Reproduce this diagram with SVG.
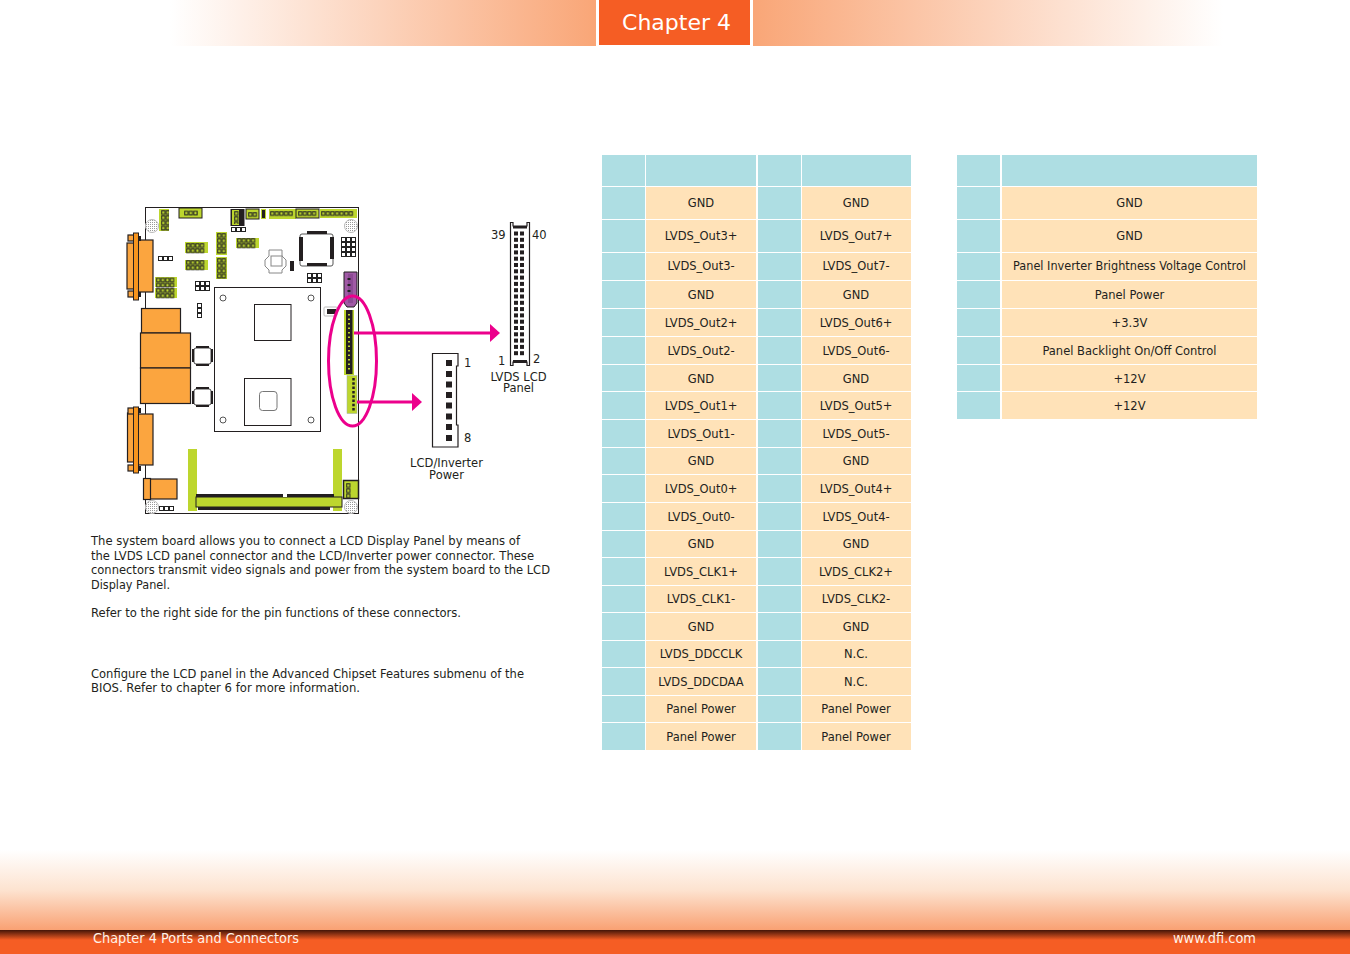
<svg xmlns="http://www.w3.org/2000/svg" width="1350" height="954" viewBox="0 0 1350 954">
<defs>
<linearGradient id="hl"><stop offset="0" stop-color="#fff"/><stop offset="1" stop-color="#F9A677"/></linearGradient>
<linearGradient id="hr"><stop offset="0" stop-color="#F9A677"/><stop offset="1" stop-color="#fff"/></linearGradient>
<linearGradient id="fg" x1="0" y1="0" x2="0" y2="1"><stop offset="0" stop-color="#fff"/><stop offset="0.5" stop-color="#FDE3D0"/><stop offset="1" stop-color="#F9A173"/></linearGradient>
<linearGradient id="fd" x1="0" y1="0" x2="0" y2="1"><stop offset="0" stop-color="#431508"/><stop offset="1" stop-color="#F55D24"/></linearGradient>
<pattern id="pins" width="4.6" height="5.200" patternUnits="userSpaceOnUse"><rect x="0.700" y="0.700" width="3.100" height="3.600" fill="#BDD62E" stroke="#222" stroke-width="1"/></pattern>
<pattern id="wh" width="5" height="5" patternUnits="userSpaceOnUse"><rect width="5" height="5" fill="#222"/><rect x="1" y="1" width="3" height="3" fill="#fff"/></pattern>
<pattern id="hatch" width="2" height="2" patternUnits="userSpaceOnUse"><rect width="2" height="2" fill="#fff"/><rect width="1" height="1" fill="#999"/></pattern>
<marker id="arrow" viewBox="0 0 10 18" refX="0" refY="9" markerUnits="userSpaceOnUse" markerWidth="10" markerHeight="18" orient="auto"><path d="M0 0L10 9L0 18Z" fill="#EC008C"/></marker>
</defs>
<style>
text{font-family:"DejaVu Sans",Verdana,sans-serif;fill:#231F20;font-size:11.5px}
.c{text-anchor:middle}
.b{fill:#AEDEE3}.o{fill:#FFE2B8}
.y{fill:#BDD62E}
.j{fill:url(#pins)}
.or{fill:#FBA53F;stroke:#231F20;stroke-width:1.2}
.k{fill:#231F20}
.w{fill:url(#wh)}
.h{fill:url(#hatch);stroke:#bbb;stroke-width:1}
.pin{fill:#231F20}
</style>
<rect width="1350" height="954" fill="#fff"/>
<g id="header">
<rect x="170" y="0" width="426" height="46" fill="url(#hl)"/>
<rect x="753" y="0" width="470" height="46" fill="url(#hr)"/>
<rect x="599" y="0" width="151" height="45" fill="#F55D24"/>
<text x="676.500" y="30" class="c" style="font-size:22px;fill:#fff">Chapter 4</text>
</g>
<g id="footer">
<rect x="0" y="850" width="1350" height="80" fill="url(#fg)"/>
<rect x="0" y="930" width="1350" height="10" fill="url(#fd)"/>
<rect x="0" y="940" width="1350" height="14" fill="#F55D24"/>
<text x="93" y="943" textLength="206" lengthAdjust="spacingAndGlyphs" style="font-size:14px;fill:#FFF1E6">Chapter 4 Ports and Connectors</text>
<text x="1173" y="943" textLength="83" lengthAdjust="spacingAndGlyphs" style="font-size:14px;fill:#FFF1E6">www.dfi.com</text>
</g>
<g id="board">
<rect x="145.500" y="207.500" width="213" height="306" fill="#fff" stroke="#231F20" stroke-width="1"/>
<g>
<rect x="159" y="209" width="10" height="22" class="y"/><rect transform="translate(161 210)" width="8" height="20.800" class="j"/>
<rect x="179" y="208" width="23" height="10" class="y" stroke="#231F20"/><rect transform="translate(184 210.500)" width="14" height="5.200" class="j"/>
<rect x="230.500" y="209" width="14" height="17" class="k"/><rect x="232" y="210" width="7" height="15" class="y"/><rect transform="translate(234 211)" width="4.600" height="13" class="j"/>
<rect x="246" y="209" width="13" height="10" class="y" stroke="#231F20"/><rect transform="translate(248 212)" width="9.200" height="5.200" class="j"/>
<rect x="261" y="209" width="5" height="10" class="y"/><rect x="262" y="210" width="3" height="8" class="k"/>
<rect x="269" y="209" width="27" height="10" class="y"/><rect transform="translate(270 211)" width="23" height="5.200" class="j"/>
<rect x="296" y="209" width="23" height="9" class="y" stroke="#231F20"/><rect transform="translate(298 211)" width="18.400" height="5.200" class="j"/>
<rect x="320" y="209" width="37" height="9" class="y"/><rect transform="translate(321 211)" width="32.200" height="5.200" class="j"/>
<circle cx="152" cy="226" r="6.500" class="h"/><circle cx="351" cy="226" r="6.500" class="h"/>
<circle cx="152" cy="507" r="6.500" class="h"/><circle cx="351" cy="507" r="6.500" class="h"/>
<rect transform="translate(231 227)" width="15" height="5" class="w"/>
<rect x="216" y="232" width="11" height="23" class="y"/><rect transform="translate(217 233)" width="9.200" height="20.800" class="j"/>
<rect x="216" y="257" width="11" height="22" class="y"/><rect transform="translate(217 258)" width="9.200" height="20.800" class="j"/>
<rect x="185" y="242" width="23" height="11" class="y"/><rect transform="translate(186 243)" width="18.400" height="10.400" class="j"/>
<rect x="185" y="260" width="23" height="10" class="y"/><rect transform="translate(186 260)" width="18.400" height="10.400" class="j"/>
<rect x="236" y="238" width="23" height="10" class="y"/><rect transform="translate(237 238)" width="18.400" height="10.400" class="j"/>
<rect x="300" y="234" width="33" height="32" rx="2" fill="#fff" stroke="#555"/>
<rect x="299" y="237" width="4" height="24" class="k"/><rect x="330" y="237" width="4" height="22" class="k"/>
<rect x="307" y="231" width="20" height="3" class="k"/><rect x="307" y="263" width="20" height="3" class="k"/>
<rect transform="translate(341 237)" width="15" height="20" class="w"/>
<rect transform="translate(307 273)" width="15" height="10" class="w"/>
<rect x="290" y="261" width="4" height="10" class="k"/>
<path d="M269 250H282V256L286 260V266L282 270V273H269V270L265 266V260L269 256Z" fill="#fff" stroke="#888"/><rect x="271" y="256" width="11" height="10" fill="#fff" stroke="#888"/>
<rect transform="translate(158 256)" width="15" height="5" class="w"/>
<rect x="155" y="277" width="22" height="10" class="y"/><rect transform="translate(156 277.500)" width="18.400" height="10.400" class="j"/>
<rect x="155" y="288" width="22" height="10" class="y"/><rect transform="translate(156 288)" width="18.400" height="10.400" class="j"/>
<rect transform="translate(195 281)" width="15" height="10" class="w"/>
<rect transform="translate(197 303)" width="5" height="15" class="w"/>
</g>
<g>
<rect x="127" y="243" width="7" height="46" class="or"/>
<rect x="134" y="240" width="19" height="52" class="or"/>
<rect x="128" y="235" width="6" height="6" class="or"/><rect x="128" y="291" width="6" height="6" class="or"/>
<rect x="133.500" y="233" width="5" height="67" fill="#F7941D" stroke="#231F20"/>
<rect x="138" y="236" width="3" height="5" class="k"/><rect x="138" y="292" width="3" height="5" class="k"/>
<rect x="127.500" y="413" width="7" height="49" class="or"/>
<rect x="134" y="414" width="19" height="51" class="or"/>
<rect x="128" y="408" width="6" height="6" class="or"/><rect x="128" y="465" width="6" height="6" class="or"/>
<rect x="133.500" y="407" width="5" height="66" fill="#F7941D" stroke="#231F20"/>
<rect x="138" y="408" width="3" height="5" class="k"/><rect x="138" y="466" width="3" height="5" class="k"/>
<rect x="141.500" y="308.500" width="39" height="24.500" class="or"/>
<rect x="140.500" y="333" width="50" height="35" class="or"/>
<rect x="140.500" y="368" width="50" height="35.500" class="or"/>
<rect x="150" y="479" width="27" height="20" class="or"/><rect x="143.500" y="478.500" width="7" height="21" class="or"/>
<rect transform="translate(159 506)" width="15" height="5" class="w"/>
</g>
<g>
<rect x="194" y="348" width="17" height="16" rx="2" fill="#fff" stroke="#444"/><rect x="192" y="349" width="2" height="13" class="k"/><rect x="211" y="349" width="2" height="13" class="k"/><rect x="196" y="346" width="13" height="2" class="k"/><rect x="196" y="364" width="13" height="2" class="k"/>
<rect x="194" y="389" width="17" height="16" rx="2" fill="#fff" stroke="#444"/><rect x="192" y="391" width="2" height="13" class="k"/><rect x="211" y="391" width="2" height="13" class="k"/><rect x="196" y="387" width="13" height="2" class="k"/><rect x="196" y="405" width="13" height="2" class="k"/>
</g>
<g>
<rect x="214.500" y="287.500" width="106" height="144" fill="#fff" stroke="#231F20"/>
<rect x="254.500" y="304.500" width="36.500" height="36" fill="#fff" stroke="#231F20"/>
<rect x="244.500" y="378.500" width="46.500" height="47" fill="#fff" stroke="#231F20"/>
<rect x="259.500" y="391.500" width="17.500" height="19" rx="3" fill="#fff" stroke="#777"/>
<circle cx="223" cy="298" r="3" fill="#fff" stroke="#555"/><circle cx="311" cy="298" r="3" fill="#fff" stroke="#555"/><circle cx="223" cy="420" r="3" fill="#fff" stroke="#555"/><circle cx="311" cy="420" r="3" fill="#fff" stroke="#555"/>
</g>
<g>
<rect x="324" y="307" width="13" height="9" rx="1" fill="#fff" stroke="#bbb"/><rect x="327" y="309" width="9" height="5" class="k"/>
<path d="M344 272H357V303L354 307H347L344 303Z" fill="#A05AA5" stroke="#231F20"/><rect x="348" y="274" width="5" height="29" fill="#8C4A94"/><path d="M349 278V302" stroke="#222" stroke-dasharray="2 4" stroke-width="3"/>
<rect x="344" y="310" width="10" height="65" class="y"/><rect x="346" y="310" width="6.500" height="64" class="k"/><path d="M349 314V372" stroke="#BDD62E" stroke-width="2" stroke-dasharray="1.500 3"/>
<rect x="347" y="375.500" width="10" height="38" class="y" stroke="#9aa" stroke-width="0.500"/><path d="M353.500 378V411" stroke="#231F20" stroke-width="2.500" stroke-dasharray="2.500 1.800"/>
<rect x="188" y="449" width="9" height="62" class="y"/>
<rect x="333" y="449" width="9" height="62" class="y"/>
<rect x="196" y="494" width="138" height="4" class="k"/>
<rect x="196" y="497" width="146" height="10" class="y" stroke="#231F20" stroke-width="1"/>
<rect x="198" y="507" width="132" height="3" class="k"/>
<rect x="283" y="494" width="4" height="3" fill="#fff"/>
<rect x="343.500" y="480.500" width="15" height="18" class="y" stroke="#231F20" stroke-width="1.500"/><rect transform="translate(346 483)" width="4.600" height="15.600" class="j"/>
</g>
</g>
<g id="connectors">
<ellipse cx="352.500" cy="361" rx="24" ry="65" fill="none" stroke="#EC008C" stroke-width="3"/>
<path d="M354 333H490" stroke="#EC008C" stroke-width="3" fill="none" marker-end="url(#arrow)"/>
<path d="M357 402H412" stroke="#EC008C" stroke-width="3" fill="none" marker-end="url(#arrow)"/>
</g>
<g id="lvds-connector">
<path d="M510.500 222.500V365.500H513V362H527V365.500H529.500V222.500H527V226H513V222.500Z" fill="#fff" stroke="#231F20" stroke-width="1.200"/>
<rect x="513" y="226" width="14" height="2.500" class="k"/><rect x="513" y="360" width="14" height="3" class="k"/>
<g class="pin">
<rect x="514" y="231.500" width="4" height="4"/><rect x="520" y="231.500" width="4" height="4"/><rect x="514" y="237.800" width="4" height="4"/><rect x="520" y="237.800" width="4" height="4"/><rect x="514" y="244.100" width="4" height="4"/><rect x="520" y="244.100" width="4" height="4"/><rect x="514" y="250.400" width="4" height="4"/><rect x="520" y="250.400" width="4" height="4"/><rect x="514" y="256.700" width="4" height="4"/><rect x="520" y="256.700" width="4" height="4"/><rect x="514" y="263" width="4" height="4"/><rect x="520" y="263" width="4" height="4"/><rect x="514" y="269.300" width="4" height="4"/><rect x="520" y="269.300" width="4" height="4"/><rect x="514" y="275.600" width="4" height="4"/><rect x="520" y="275.600" width="4" height="4"/><rect x="514" y="281.900" width="4" height="4"/><rect x="520" y="281.900" width="4" height="4"/><rect x="514" y="288.200" width="4" height="4"/><rect x="520" y="288.200" width="4" height="4"/><rect x="514" y="294.500" width="4" height="4"/><rect x="520" y="294.500" width="4" height="4"/><rect x="514" y="300.800" width="4" height="4"/><rect x="520" y="300.800" width="4" height="4"/><rect x="514" y="307.100" width="4" height="4"/><rect x="520" y="307.100" width="4" height="4"/><rect x="514" y="313.400" width="4" height="4"/><rect x="520" y="313.400" width="4" height="4"/><rect x="514" y="319.700" width="4" height="4"/><rect x="520" y="319.700" width="4" height="4"/><rect x="514" y="326" width="4" height="4"/><rect x="520" y="326" width="4" height="4"/><rect x="514" y="332.300" width="4" height="4"/><rect x="520" y="332.300" width="4" height="4"/><rect x="514" y="338.600" width="4" height="4"/><rect x="520" y="338.600" width="4" height="4"/><rect x="514" y="344.900" width="4" height="4"/><rect x="520" y="344.900" width="4" height="4"/><rect x="514" y="351.200" width="4" height="4"/><rect x="520" y="351.200" width="4" height="4"/>
</g>
<text x="491" y="239">39</text><text x="532" y="239">40</text><text x="498" y="365">1</text><text x="533" y="363">2</text>
<text x="518.500" y="381" class="c">LVDS LCD</text><text x="518.500" y="392" class="c">Panel</text>
</g>
<g id="power-connector">
<path d="M432.500 353.500H458V366H456.500V425H458V447H432.500Z" fill="#fff" stroke="#231F20" stroke-width="1.200"/>
<g class="pin"><rect x="446" y="360" width="6" height="6"/><rect x="446" y="371" width="6" height="6"/><rect x="446" y="381.500" width="6" height="6"/><rect x="446" y="392" width="6" height="6"/><rect x="446" y="402.500" width="6" height="6"/><rect x="446" y="413.500" width="6" height="6"/><rect x="446" y="424" width="6" height="6"/><rect x="446" y="435" width="6" height="6"/></g>
<text x="464" y="367">1</text><text x="464" y="442">8</text>
<text x="446.500" y="467" class="c">LCD/Inverter</text><text x="446.500" y="479" class="c">Power</text>
</g>
<g id="description">
<text x="91" y="545" textLength="429" lengthAdjust="spacingAndGlyphs">The system board allows you to connect a LCD Display Panel by means of</text>
<text x="91" y="559.500" textLength="443" lengthAdjust="spacingAndGlyphs">the LVDS LCD panel connector and the LCD/Inverter power connector. These</text>
<text x="91" y="574" textLength="459" lengthAdjust="spacingAndGlyphs">connectors transmit video signals and power from the system board to the LCD</text>
<text x="91" y="589" textLength="79" lengthAdjust="spacingAndGlyphs">Display Panel.</text>
<text x="91" y="617" textLength="370" lengthAdjust="spacingAndGlyphs">Refer to the right side for the pin functions of these connectors.</text>
<text x="91" y="678" textLength="433" lengthAdjust="spacingAndGlyphs">Configure the LCD panel in the Advanced Chipset Features submenu of the</text>
<text x="91" y="692" textLength="269" lengthAdjust="spacingAndGlyphs">BIOS. Refer to chapter 6 for more information.</text>
</g>
<g id="table-lvds">
<rect x="602" y="155" width="43" height="31" class="b"/><rect x="646" y="155" width="110" height="31" class="b"/><rect x="758" y="155" width="43" height="31" class="b"/><rect x="802" y="155" width="109" height="31" class="b"/>
<rect x="602" y="187" width="43" height="32" class="b"/><rect x="646" y="187" width="110" height="32" class="o"/><rect x="758" y="187" width="43" height="32" class="b"/><rect x="802" y="187" width="109" height="32" class="o"/>
<rect x="602" y="220" width="43" height="32" class="b"/><rect x="646" y="220" width="110" height="32" class="o"/><rect x="758" y="220" width="43" height="32" class="b"/><rect x="802" y="220" width="109" height="32" class="o"/>
<rect x="602" y="253" width="43" height="27" class="b"/><rect x="646" y="253" width="110" height="27" class="o"/><rect x="758" y="253" width="43" height="27" class="b"/><rect x="802" y="253" width="109" height="27" class="o"/>
<rect x="602" y="281" width="43" height="27" class="b"/><rect x="646" y="281" width="110" height="27" class="o"/><rect x="758" y="281" width="43" height="27" class="b"/><rect x="802" y="281" width="109" height="27" class="o"/>
<rect x="602" y="309" width="43" height="27" class="b"/><rect x="646" y="309" width="110" height="27" class="o"/><rect x="758" y="309" width="43" height="27" class="b"/><rect x="802" y="309" width="109" height="27" class="o"/>
<rect x="602" y="337" width="43" height="27" class="b"/><rect x="646" y="337" width="110" height="27" class="o"/><rect x="758" y="337" width="43" height="27" class="b"/><rect x="802" y="337" width="109" height="27" class="o"/>
<rect x="602" y="365" width="43" height="26" class="b"/><rect x="646" y="365" width="110" height="26" class="o"/><rect x="758" y="365" width="43" height="26" class="b"/><rect x="802" y="365" width="109" height="26" class="o"/>
<rect x="602" y="392" width="43" height="27" class="b"/><rect x="646" y="392" width="110" height="27" class="o"/><rect x="758" y="392" width="43" height="27" class="b"/><rect x="802" y="392" width="109" height="27" class="o"/>
<rect x="602" y="420" width="43" height="27" class="b"/><rect x="646" y="420" width="110" height="27" class="o"/><rect x="758" y="420" width="43" height="27" class="b"/><rect x="802" y="420" width="109" height="27" class="o"/>
<rect x="602" y="448" width="43" height="26" class="b"/><rect x="646" y="448" width="110" height="26" class="o"/><rect x="758" y="448" width="43" height="26" class="b"/><rect x="802" y="448" width="109" height="26" class="o"/>
<rect x="602" y="475" width="43" height="27" class="b"/><rect x="646" y="475" width="110" height="27" class="o"/><rect x="758" y="475" width="43" height="27" class="b"/><rect x="802" y="475" width="109" height="27" class="o"/>
<rect x="602" y="503" width="43" height="27" class="b"/><rect x="646" y="503" width="110" height="27" class="o"/><rect x="758" y="503" width="43" height="27" class="b"/><rect x="802" y="503" width="109" height="27" class="o"/>
<rect x="602" y="531" width="43" height="26" class="b"/><rect x="646" y="531" width="110" height="26" class="o"/><rect x="758" y="531" width="43" height="26" class="b"/><rect x="802" y="531" width="109" height="26" class="o"/>
<rect x="602" y="558" width="43" height="27" class="b"/><rect x="646" y="558" width="110" height="27" class="o"/><rect x="758" y="558" width="43" height="27" class="b"/><rect x="802" y="558" width="109" height="27" class="o"/>
<rect x="602" y="586" width="43" height="26" class="b"/><rect x="646" y="586" width="110" height="26" class="o"/><rect x="758" y="586" width="43" height="26" class="b"/><rect x="802" y="586" width="109" height="26" class="o"/>
<rect x="602" y="613" width="43" height="27" class="b"/><rect x="646" y="613" width="110" height="27" class="o"/><rect x="758" y="613" width="43" height="27" class="b"/><rect x="802" y="613" width="109" height="27" class="o"/>
<rect x="602" y="641" width="43" height="26" class="b"/><rect x="646" y="641" width="110" height="26" class="o"/><rect x="758" y="641" width="43" height="26" class="b"/><rect x="802" y="641" width="109" height="26" class="o"/>
<rect x="602" y="668" width="43" height="27" class="b"/><rect x="646" y="668" width="110" height="27" class="o"/><rect x="758" y="668" width="43" height="27" class="b"/><rect x="802" y="668" width="109" height="27" class="o"/>
<rect x="602" y="696" width="43" height="26" class="b"/><rect x="646" y="696" width="110" height="26" class="o"/><rect x="758" y="696" width="43" height="26" class="b"/><rect x="802" y="696" width="109" height="26" class="o"/>
<rect x="602" y="723" width="43" height="27" class="b"/><rect x="646" y="723" width="110" height="27" class="o"/><rect x="758" y="723" width="43" height="27" class="b"/><rect x="802" y="723" width="109" height="27" class="o"/>
<g>
<text x="701" y="207" class="c">GND</text><text x="856" y="207" class="c">GND</text>
<text x="701" y="240" class="c">LVDS_Out3+</text><text x="856" y="240" class="c">LVDS_Out7+</text>
<text x="701" y="270" class="c">LVDS_Out3-</text><text x="856" y="270" class="c">LVDS_Out7-</text>
<text x="701" y="299" class="c">GND</text><text x="856" y="299" class="c">GND</text>
<text x="701" y="327" class="c">LVDS_Out2+</text><text x="856" y="327" class="c">LVDS_Out6+</text>
<text x="701" y="355" class="c">LVDS_Out2-</text><text x="856" y="355" class="c">LVDS_Out6-</text>
<text x="701" y="383" class="c">GND</text><text x="856" y="383" class="c">GND</text>
<text x="701" y="410" class="c">LVDS_Out1+</text><text x="856" y="410" class="c">LVDS_Out5+</text>
<text x="701" y="438" class="c">LVDS_Out1-</text><text x="856" y="438" class="c">LVDS_Out5-</text>
<text x="701" y="465" class="c">GND</text><text x="856" y="465" class="c">GND</text>
<text x="701" y="493" class="c">LVDS_Out0+</text><text x="856" y="493" class="c">LVDS_Out4+</text>
<text x="701" y="521" class="c">LVDS_Out0-</text><text x="856" y="521" class="c">LVDS_Out4-</text>
<text x="701" y="548" class="c">GND</text><text x="856" y="548" class="c">GND</text>
<text x="701" y="576" class="c">LVDS_CLK1+</text><text x="856" y="576" class="c">LVDS_CLK2+</text>
<text x="701" y="603" class="c">LVDS_CLK1-</text><text x="856" y="603" class="c">LVDS_CLK2-</text>
<text x="701" y="631" class="c">GND</text><text x="856" y="631" class="c">GND</text>
<text x="701" y="658" class="c">LVDS_DDCCLK</text><text x="856" y="658" class="c">N.C.</text>
<text x="701" y="686" class="c">LVDS_DDCDAA</text><text x="856" y="686" class="c">N.C.</text>
<text x="701" y="713" class="c">Panel Power</text><text x="856" y="713" class="c">Panel Power</text>
<text x="701" y="741" class="c">Panel Power</text><text x="856" y="741" class="c">Panel Power</text>
</g>
</g>
<g id="table-power">
<rect x="957" y="155" width="43" height="31" class="b"/><rect x="1002" y="155" width="255" height="31" class="b"/>
<rect x="957" y="187" width="43" height="32" class="b"/><rect x="1002" y="187" width="255" height="32" class="o"/>
<rect x="957" y="220" width="43" height="32" class="b"/><rect x="1002" y="220" width="255" height="32" class="o"/>
<rect x="957" y="253" width="43" height="27" class="b"/><rect x="1002" y="253" width="255" height="27" class="o"/>
<rect x="957" y="281" width="43" height="27" class="b"/><rect x="1002" y="281" width="255" height="27" class="o"/>
<rect x="957" y="309" width="43" height="27" class="b"/><rect x="1002" y="309" width="255" height="27" class="o"/>
<rect x="957" y="337" width="43" height="27" class="b"/><rect x="1002" y="337" width="255" height="27" class="o"/>
<rect x="957" y="365" width="43" height="26" class="b"/><rect x="1002" y="365" width="255" height="26" class="o"/>
<rect x="957" y="392" width="43" height="27" class="b"/><rect x="1002" y="392" width="255" height="27" class="o"/>
<text x="1129.500" y="207" class="c">GND</text>
<text x="1129.500" y="240" class="c">GND</text>
<text x="1129.500" y="270" class="c" textLength="233" lengthAdjust="spacingAndGlyphs">Panel Inverter Brightness Voltage Control</text>
<text x="1129.500" y="299" class="c">Panel Power</text>
<text x="1129.500" y="327" class="c">+3.3V</text>
<text x="1129.500" y="355" class="c">Panel Backlight On/Off Control</text>
<text x="1129.500" y="383" class="c">+12V</text>
<text x="1129.500" y="410" class="c">+12V</text>
</g>
</svg>
